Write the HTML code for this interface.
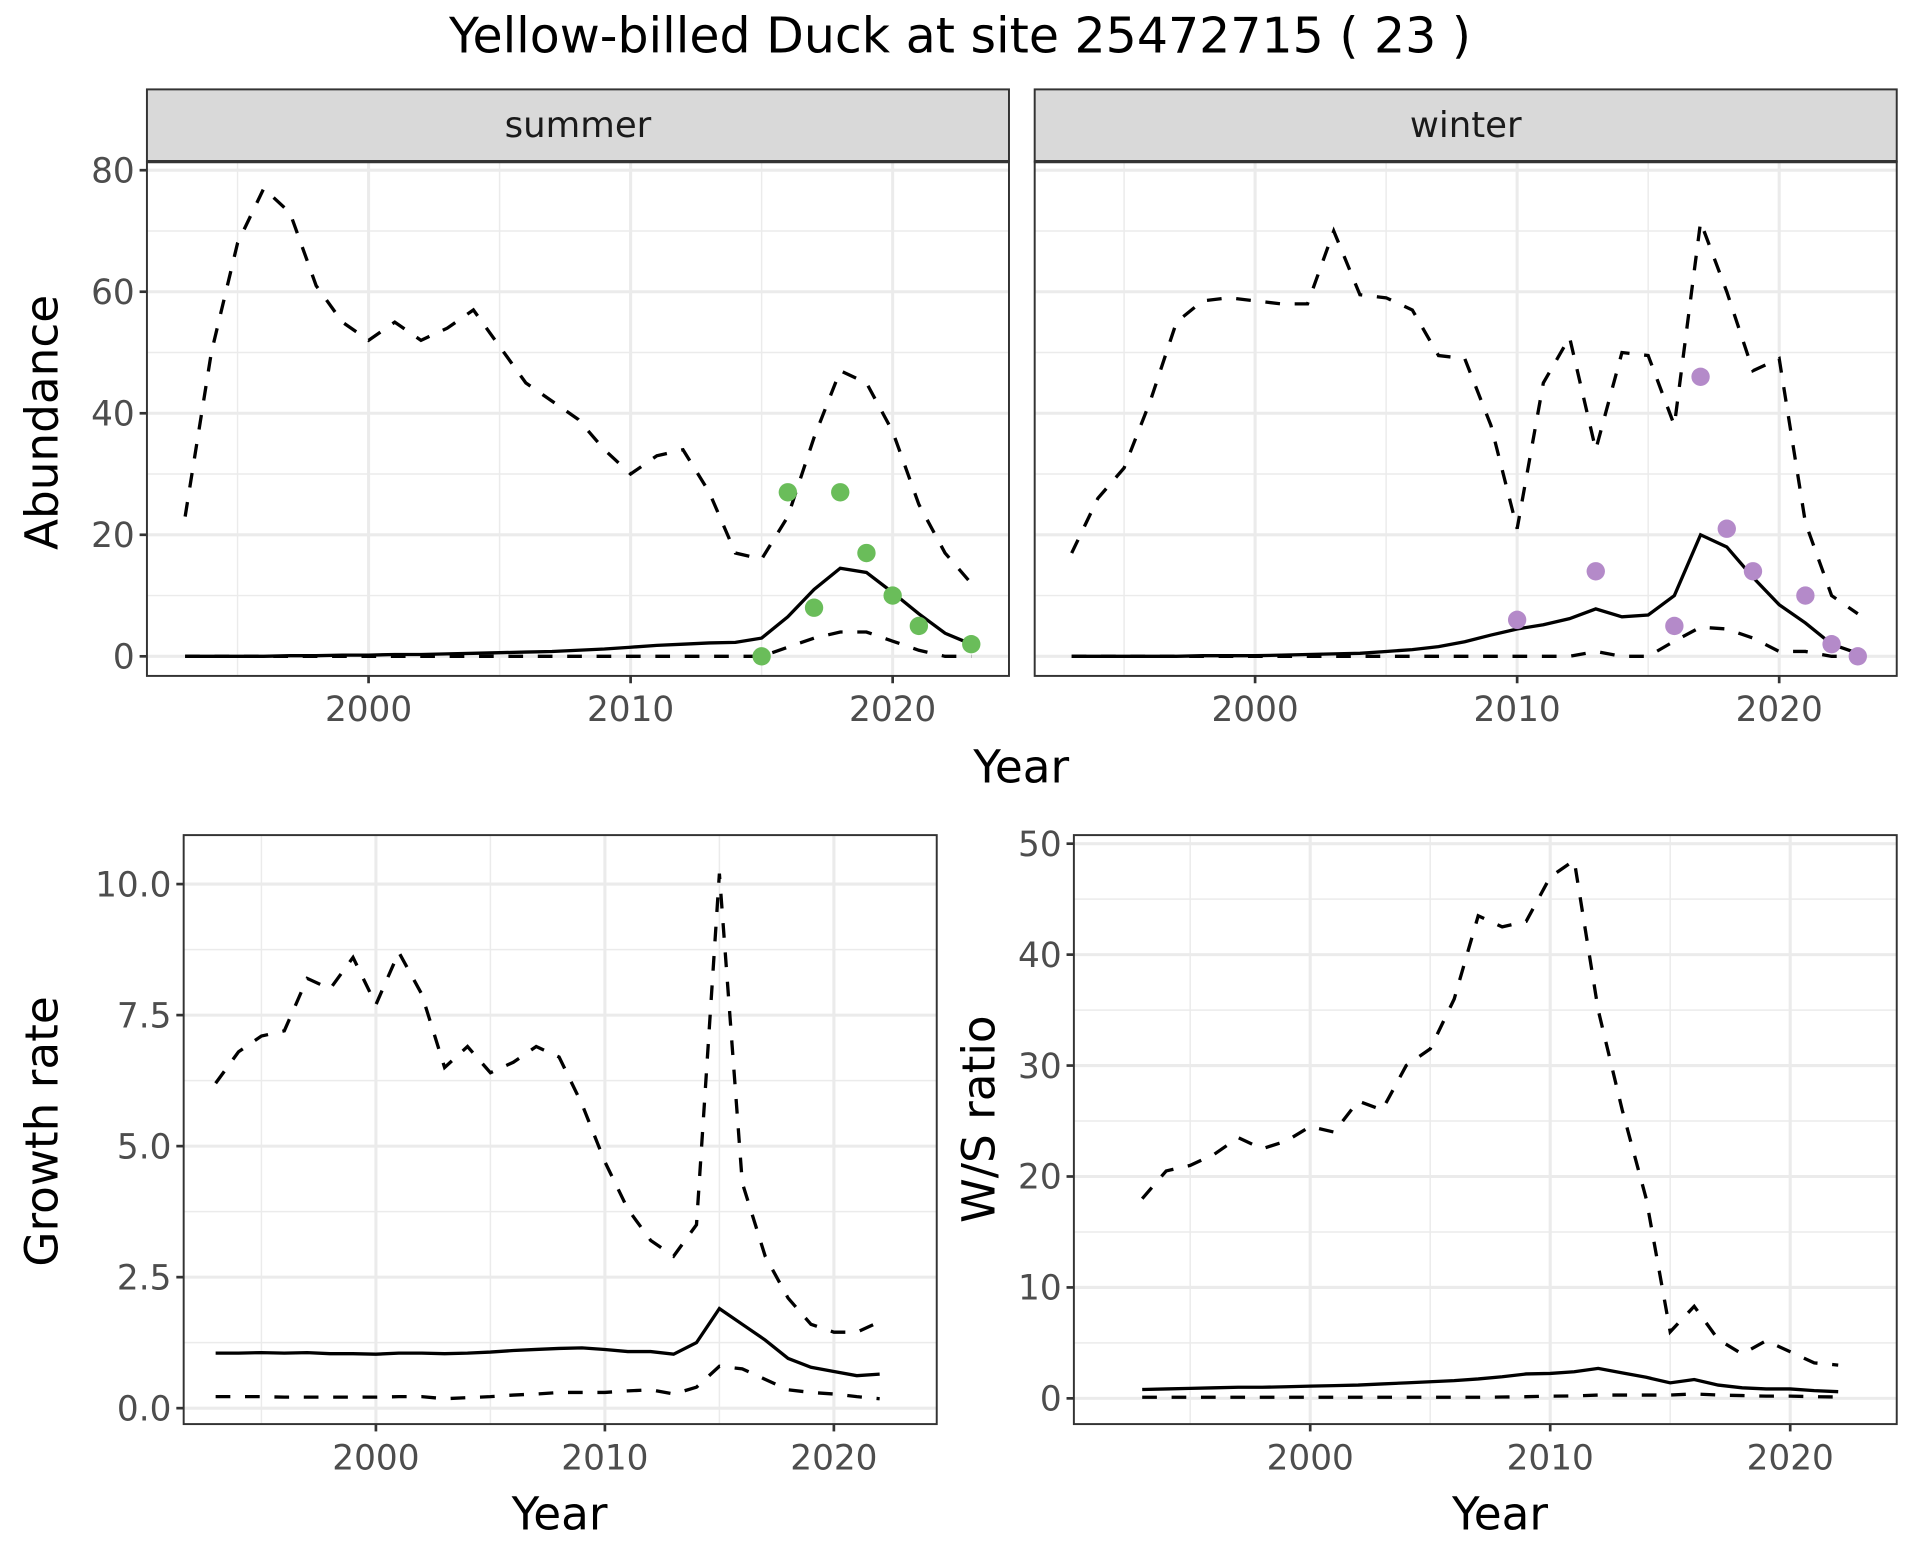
<!DOCTYPE html>
<html><head><meta charset="utf-8"><style>
html,body{margin:0;padding:0;background:#fff;}
svg{display:block;font-family:"DejaVu Sans","Liberation Sans",sans-serif;}
</style></head><body>
<svg id="chart" width="1920" height="1560" viewBox="0 0 1568 1274" xmlns="http://www.w3.org/2000/svg">
<text x="784" y="43" font-size="40" text-anchor="middle" fill="#000">Yellow-billed Duck at site 25472715 ( 23 )</text>
</svg>
<script>
// ---- data ----
const yearsA = [1993,1994,1995,1996,1997,1998,1999,2000,2001,2002,2003,2004,2005,2006,2007,2008,2009,2010,2011,2012,2013,2014,2015,2016,2017,2018,2019,2020,2021,2022,2023];
const summerUpper = [23,50,68,77,73,61,55,52,55,52,54,57,51,45,42,39,34,30,33,34,27,17,16,23,36,47,45,37,25,17,12];
const summerMean  = [0,0,0,0,0.1,0.1,0.2,0.2,0.3,0.3,0.4,0.5,0.6,0.7,0.8,1.0,1.2,1.5,1.8,2.0,2.2,2.3,3.0,6.5,11,14.5,13.8,10.5,7,3.8,2];
const summerLower = [0,0,0,0,0,0,0,0,0,0,0,0,0,0,0,0,0,0,0,0,0,0,0,1.5,3,4,4,2.5,1,0,0];
const summerObsYears = [2015,2016,2017,2018,2019,2020,2021,2023];
const summerObs = [0,27,8,27,17,10,5,2];
const winterUpper = [17,26,31,42,55,58.5,59,58.5,58,58,70,59.5,59,57,49.5,49,38,21,45,52.5,34,50,49.5,38,71.5,60,47,49,22,10,7];
const winterMean  = [0,0,0,0,0,0.1,0.1,0.1,0.2,0.3,0.4,0.5,0.8,1.1,1.6,2.4,3.5,4.5,5.2,6.2,7.8,6.5,6.8,10,20,18,13,8.5,5.5,2,0.5];
const winterLower = [0,0,0,0,0,0,0,0,0,0,0,0,0,0,0,0,0,0,0,0,0.8,0,0,2.5,4.8,4.5,3,0.8,0.8,0,0];
const winterObsYears = [2010,2013,2016,2017,2018,2019,2021,2022,2023];
const winterObs = [6,14,5,46,21,14,10,2,0];
const yearsB = [1993,1994,1995,1996,1997,1998,1999,2000,2001,2002,2003,2004,2005,2006,2007,2008,2009,2010,2011,2012,2013,2014,2015,2016,2017,2018,2019,2020,2021,2022];
const growthUpper = [6.2,6.8,7.1,7.2,8.2,8.0,8.6,7.7,8.7,7.9,6.5,6.9,6.4,6.6,6.9,6.7,5.8,4.7,3.8,3.2,2.9,3.5,10.2,4.3,2.9,2.1,1.6,1.45,1.45,1.65];
const growthMean  = [1.05,1.05,1.06,1.05,1.06,1.04,1.04,1.03,1.05,1.05,1.04,1.05,1.07,1.1,1.12,1.14,1.15,1.12,1.08,1.08,1.03,1.25,1.9,1.6,1.3,0.95,0.78,0.7,0.62,0.65];
const growthLower = [0.22,0.22,0.22,0.21,0.21,0.21,0.21,0.21,0.22,0.22,0.18,0.2,0.22,0.25,0.27,0.3,0.3,0.3,0.33,0.35,0.27,0.4,0.8,0.75,0.55,0.35,0.3,0.27,0.22,0.18];
const ratioUpper = [18,20.5,21,22,23.5,22.5,23.2,24.5,24,26.8,26,30,31.5,36,43.5,42.5,43,47,48.5,35,26,18,6,8.3,5.3,4,5.2,4.2,3.2,3];
const ratioMean  = [0.8,0.85,0.9,0.95,1,1,1.05,1.1,1.15,1.2,1.3,1.4,1.5,1.6,1.75,1.95,2.2,2.25,2.4,2.7,2.3,1.9,1.4,1.7,1.2,0.95,0.85,0.85,0.7,0.6];
const ratioLower = [0.1,0.1,0.1,0.1,0.1,0.1,0.1,0.1,0.1,0.1,0.1,0.1,0.1,0.1,0.1,0.12,0.15,0.2,0.22,0.3,0.3,0.3,0.3,0.4,0.3,0.25,0.2,0.2,0.15,0.12];
const xTicks = [2000,2010,2020];
const xMinor = [1995,2005,2015];
const abTicks = [0,20,40,60,80]; const abMinor=[10,30,50,70];
const grTicks = [0,2.5,5,7.5,10]; const grMinor=[1.25,3.75,6.25,8.75];
const grLabels = ["0.0","2.5","5.0","7.5","10.0"];
const raTicks = [0,10,20,30,40,50]; const raMinor=[5,15,25,35,45];

const svg = document.getElementById('chart');
const NS = 'http://www.w3.org/2000/svg';
function el(tag, attrs, parent){const e=document.createElementNS(NS,tag);for(const k in attrs)e.setAttribute(k,attrs[k]);(parent||svg).appendChild(e);return e;}

function panel(o){
  const g = el('g',{});
  
  
  const sx = v => o.x0 + (v - o.xa)*(o.x1v - o.x0)/(o.xb - o.xa);
  const sy = v => o.y0v + (v - o.ya)*(o.y1v - o.y0v)/(o.yb - o.ya);
  o.yMinor.forEach(v=>el('line',{x1:o.L,x2:o.R,y1:sy(v),y2:sy(v),stroke:'#ebebeb','stroke-width':1.2},g));
  o.xMinorT.forEach(v=>el('line',{x1:sx(v),x2:sx(v),y1:o.T,y2:o.B,stroke:'#ebebeb','stroke-width':1.2},g));
  o.yTicks.forEach((v,i)=>{
    el('line',{x1:o.L,x2:o.R,y1:sy(v),y2:sy(v),stroke:'#ebebeb','stroke-width':2.5},g);
    if(o.yLab){
      el('line',{x1:o.L-6,x2:o.L,y1:sy(v),y2:sy(v),stroke:'#333','stroke-width':2.2},g);
      const t=el('text',{x:o.L-10,y:sy(v)+10,'font-size':28,'text-anchor':'end',fill:'#4d4d4d'},g);
      t.textContent=o.yLab[i];
      
      
    }
  });
  xTicks.forEach(v=>{
    el('line',{x1:sx(v),x2:sx(v),y1:o.T,y2:o.B,stroke:'#ebebeb','stroke-width':2.5},g);
    el('line',{x1:sx(v),x2:sx(v),y1:o.B,y2:o.B+6,stroke:'#333','stroke-width':2.2},g);
    const t=el('text',{x:sx(v),y:o.B+37,'font-size':28,'text-anchor':'middle',fill:'#4d4d4d'},g);
    t.textContent=v;
    
    
  });
  const path = (ys, vals) => ys.map((y,i)=>(i?'L':'M')+sx(y).toFixed(2)+','+sy(vals[i]).toFixed(2)).join(' ');
  const up=el('path',{d:path(o.years,o.upper),fill:'none',stroke:'#000','stroke-width':2.7,'stroke-dasharray':'12,12'},g);
  
  
  const lo=el('path',{d:path(o.years,o.lower),fill:'none',stroke:'#000','stroke-width':2.7,'stroke-dasharray':'12,12'},g);
  
  
  const mn=el('path',{d:path(o.years,o.mean),fill:'none',stroke:'#000','stroke-width':2.7},g);
  
  
  if(o.obs){
    o.obsYears.forEach((y,i)=>{
      const c=el('circle',{cx:sx(y),cy:sy(o.obs[i]),r:7.5,fill:o.color},g);
      
      
    });
  }
  el('rect',{x:o.L,y:o.T,width:o.R-o.L,height:o.B-o.T,fill:'none',stroke:'#333','stroke-width':1.6},g);
  if(o.strip){
    const s=el('rect',{x:o.L,y:o.T-59,width:o.R-o.L,height:59,fill:'#d9d9d9',stroke:'#333','stroke-width':1.6},g);
    
    
    el('line',{x1:o.L,x2:o.R,y1:o.T,y2:o.T,stroke:'#333','stroke-width':2.6},g);
    const t=el('text',{x:(o.L+o.R)/2,y:o.T-20,'font-size':29,'text-anchor':'middle',fill:'#1a1a1a'},g);
    t.textContent=o.strip;
    
    
  }
}

panel({name:'summer-panel',L:120,R:824,T:132,B:552,x0:301,x1v:729,xa:2000,xb:2020,y0v:536,y1v:139,ya:0,yb:80,
  yTicks:abTicks,yMinor:abMinor,xMinorT:xMinor,yLab:abTicks.map(String),years:yearsA,upper:summerUpper,mean:summerMean,lower:summerLower,
  obs:summerObs,obsYears:summerObsYears,color:'#6abd5a',strip:'summer'});
panel({name:'winter-panel',L:845,R:1549,T:132,B:552,x0:1025,x1v:1453,xa:2000,xb:2020,y0v:536,y1v:139,ya:0,yb:80,
  yTicks:abTicks,yMinor:abMinor,xMinorT:xMinor,yLab:null,years:yearsA,upper:winterUpper,mean:winterMean,lower:winterLower,
  obs:winterObs,obsYears:winterObsYears,color:'#b48ac9',strip:'winter'});
panel({name:'growth-rate-panel',L:150,R:765,T:682,B:1163,x0:307,x1v:681,xa:2000,xb:2020,y0v:1150,y1v:722,ya:0,yb:10,
  yTicks:grTicks,yMinor:grMinor,xMinorT:xMinor,yLab:grLabels,years:yearsB,upper:growthUpper,mean:growthMean,lower:growthLower});
panel({name:'ws-ratio-panel',L:877,R:1549,T:682,B:1163,x0:1070,x1v:1462,xa:2000,xb:2020,y0v:1142,y1v:689,ya:0,yb:50,
  yTicks:raTicks,yMinor:raMinor,xMinorT:xMinor,yLab:raTicks.map(String),years:yearsB,upper:ratioUpper,mean:ratioMean,lower:ratioLower});

function label(txt,x,y,rot,name){
  const t=el('text',{x:x,y:y,'font-size':37,'text-anchor':'middle',fill:'#000',transform:rot?`rotate(-90 ${x} ${y})`:''});
  t.textContent=txt;
  
  
}
label('Year',834,639,false,'x-axis-title-top');
label('Abundance',47,345,true,'y-axis-title-abundance');
label('Year',457,1249,false,'x-axis-title-growth');
label('Growth rate',47,924,true,'y-axis-title-growth');
label('Year',1225,1249,false,'x-axis-title-ratio');
label('W/S ratio',812,914,true,'y-axis-title-ratio');
</script>
</body></html>
